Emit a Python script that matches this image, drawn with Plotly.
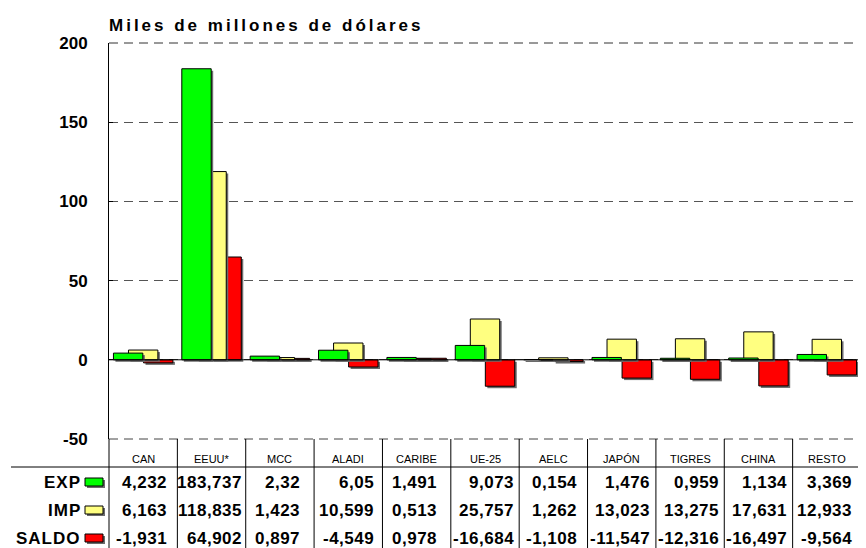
import plotly.graph_objects as go

# ---- data ----
categories = ["CAN", "EEUU*", "MCC", "ALADI", "CARIBE", "UE-25", "AELC", "JAPÓN", "TIGRES", "CHINA", "RESTO"]
exp_vals = [4.232, 183.737, 2.32, 6.05, 1.491, 9.073, 0.154, 1.476, 0.959, 1.134, 3.369]
imp_vals = [6.163, 118.835, 1.423, 10.599, 0.513, 25.757, 1.262, 13.023, 13.275, 17.631, 12.933]
saldo_vals = [-1.931, 64.902, 0.897, -4.549, 0.978, -16.684, -1.108, -11.547, -12.316, -16.497, -9.564]
series_names = ["EXP", "IMP", "SALDO"]
y_ticks = [-50, 0, 50, 100, 150, 200]
title_text = "Miles de millones de dólares"

# ---- layout geometry (page pixels; page body has an 8px margin) ----
PAGE_W, PAGE_H = 866, 548
OFF = 8
FIG_W, FIG_H = PAGE_W - OFF, PAGE_H - OFF
PLOT_L, PLOT_R, PLOT_T, PLOT_B = 109, 861, 43, 439
PW, PH = PLOT_R - PLOT_L, PLOT_B - PLOT_T
YMIN, YMAX = -50, 200
n = len(categories)

def px_x(px):
    return (px - PLOT_L) / PW

def px_y(py):
    return (PLOT_B - py) / PH

colors = {"EXP": "#00FF00", "IMP": "#FFFF80", "SALDO": "#FF0000"}
values = {"EXP": exp_vals, "IMP": imp_vals, "SALDO": saldo_vals}
offsets = {"EXP": -0.435, "IMP": -0.215, "SALDO": 0.005}
BW = 0.43
unit_px = PW / n
dx = 2.0 / unit_px
dy = 2.0 * (YMAX - YMIN) / PH

fig = go.Figure()
for name in ["SALDO", "IMP", "EXP"]:
    fig.add_trace(go.Bar(
        x=categories, y=values[name], base=[-dy] * n,
        offset=offsets[name] + dx, width=BW,
        marker=dict(color="#6b6b6b", line=dict(width=0)),
        showlegend=False, hoverinfo="skip"))
    fig.add_trace(go.Bar(
        x=categories, y=values[name], name=name,
        offset=offsets[name], width=BW,
        marker=dict(color=colors[name], line=dict(color="#000000", width=1)),
        showlegend=False))

FONT = "Liberation Sans, Arial, sans-serif"
shapes = []
annotations = []

# zero line above bars
shapes.append(dict(type="line", xref="paper", yref="y", x0=0, x1=1, y0=0, y1=0,
                   line=dict(color="#000000", width=1), layer="above"))
# dashed top / bottom borders (200 and -50)
for yp, col in [(1, "#333333"), (0, "#444444")]:
    shapes.append(dict(type="line", xref="paper", yref="paper", x0=0, x1=1, y0=yp, y1=yp,
                       line=dict(color=col, width=1, dash="9px,6px"), layer="above"))

# table lines
bottom = px_y(PAGE_H)
for i in range(n + 1):
    xp = i / n
    shapes.append(dict(type="line", xref="paper", yref="paper", x0=xp, x1=xp,
                       y0=0, y1=bottom, line=dict(color="#000000", width=1)))
shapes.append(dict(type="line", xref="paper", yref="paper", x0=px_x(11), x1=1,
                   y0=px_y(467), y1=px_y(467), line=dict(color="#000000", width=1)))

# category labels
for i, c in enumerate(categories):
    annotations.append(dict(x=(i + 0.5) / n, y=px_y(459), xref="paper", yref="paper",
                            text=c, showarrow=False, xanchor="center", yanchor="middle",
                            font=dict(family=FONT, size=11, color="#000000")))

# value cells
VFS = 17
LS = 0.5
cw = {"-": 0.333, ",": 0.278, ".": 0.278}

def text_w(s):
    return sum(cw.get(ch, 0.556) * VFS + LS for ch in s)

def fmt(v):
    return repr(v).replace(".", ",")

row_y = {"EXP": 482, "IMP": 510, "SALDO": 538}
for i in range(n):
    cells = {nm: fmt(values[nm][i]) for nm in series_names}
    maxw = max(text_w(s) for s in cells.values())
    right_px = PLOT_L + (i + 0.5) * unit_px + maxw / 2
    for nm in series_names:
        annotations.append(dict(
            x=px_x(right_px), y=px_y(row_y[nm]), xref="paper", yref="paper",
            text="<b><span style='letter-spacing:0.5px'>" + cells[nm] + "</span></b>",
            showarrow=False, xanchor="right", yanchor="middle",
            font=dict(family=FONT, size=VFS, color="#000000")))

# row labels + swatches
for nm in series_names:
    yc = row_y[nm]
    annotations.append(dict(
        x=px_x(83), y=px_y(yc), xref="paper", yref="paper",
        text="<b><span style='letter-spacing:1px'>" + nm + "</span></b>",
        showarrow=False, xanchor="right", yanchor="middle",
        font=dict(family=FONT, size=17, color="#000000")))
    shapes.append(dict(type="rect", xref="paper", yref="paper",
                       x0=px_x(87), x1=px_x(105), y0=px_y(yc - 2), y1=px_y(yc + 6),
                       fillcolor="#6b6b6b", line=dict(width=0)))
    shapes.append(dict(type="rect", xref="paper", yref="paper",
                       x0=px_x(85), x1=px_x(103), y0=px_y(yc - 4), y1=px_y(yc + 4),
                       fillcolor=colors[nm], line=dict(color="#000000", width=1)))

# title
annotations.append(dict(
    x=px_x(107), y=px_y(25), xref="paper", yref="paper",
    text="<b><span style='letter-spacing:3px'>" + title_text + "</span></b>",
    showarrow=False, xanchor="left", yanchor="middle",
    font=dict(family=FONT, size=17, color="#000000")))

fig.update_layout(
    width=FIG_W, height=FIG_H,
    margin=dict(l=PLOT_L - OFF, r=PAGE_W - PLOT_R, t=PLOT_T - OFF,
                b=FIG_H - (PLOT_B - OFF), pad=0),
    paper_bgcolor="#FFFFFF", plot_bgcolor="#FFFFFF",
    barmode="overlay",
    shapes=shapes, annotations=annotations,
    showlegend=False,
    xaxis=dict(type="category", range=[-0.5, n - 0.5], showticklabels=False,
               showgrid=False, zeroline=False, showline=False, ticks=""),
    yaxis=dict(range=[YMIN, YMAX], tickvals=y_ticks,
               ticktext=["<b>%d</b>" % v for v in y_ticks],
               tickfont=dict(family=FONT, size=17, color="#000000"),
               showgrid=True, gridcolor="#555555", griddash="9px,6px", gridwidth=1,
               zeroline=False, showline=True, linecolor="#000000", linewidth=1,
               mirror=True, ticks="inside", ticklen=4, tickcolor="#000000",
               ticklabelstandoff=17),
)

fig.write_html("out.html")
